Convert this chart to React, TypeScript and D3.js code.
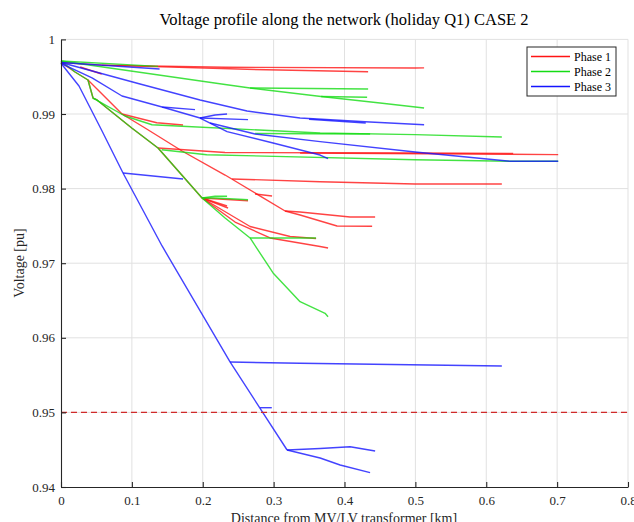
import React, { useEffect, useRef } from 'react';
import * as d3 from 'd3';

type Pt = [number, number];

const xTicks = [0, 0.1, 0.2, 0.3, 0.4, 0.5, 0.6, 0.7, 0.8];
const xTickLabels = ['0', '0.1', '0.2', '0.3', '0.4', '0.5', '0.6', '0.7', '0.8'];
const yTicks = [0.94, 0.95, 0.96, 0.97, 0.98, 0.99, 1];
const yTickLabels = ['0.94', '0.95', '0.96', '0.97', '0.98', '0.99', '1'];
const phaseNames = ['Phase 1', 'Phase 2', 'Phase 3'];
const phaseColors = ['#ff1414', '#14dc14', '#1414ff'];
const voltageLimit = 0.95;

// each branch = [distance km, voltage pu] along a feeder path
const phase1: Pt[][] = [
  [[0, 0.9969], [0.0579, 0.99655], [0.2315, 0.99626], [0.4996, 0.99617], [0.5123, 0.99618]],
  [[0.0579, 0.99655], [0.2625, 0.99599], [0.4333, 0.99567]],
  [[0.027, 0.9963], [0.0574, 0.99536]],
  [[0, 0.9969], [0.0198, 0.99563], [0.0381, 0.99456], [0.0452, 0.99214], [0.0508, 0.99188], [0.0998, 0.98812], [0.1369, 0.98544], [0.199, 0.97874], [0.2456, 0.97552], [0.295, 0.97338], [0.3656, 0.97224], [0.3768, 0.97204]],
  [[0.199, 0.97874], [0.2668, 0.97492], [0.3232, 0.97358], [0.3599, 0.97331]],
  [[0.0381, 0.99456], [0.0861, 0.99], [0.1186, 0.98812], [0.1708, 0.98504], [0.2315, 0.98182], [0.3162, 0.977], [0.3373, 0.97686], [0.4079, 0.97619], [0.4432, 0.97619]],
  [[0.3162, 0.977], [0.3373, 0.97646], [0.3895, 0.97499], [0.439, 0.97495]],
  [[0.0861, 0.99], [0.1351, 0.98883], [0.1722, 0.98853]],
  [[0.2414, 0.98129], [0.3656, 0.98092], [0.4996, 0.98062], [0.622, 0.98062]],
  [[0.2738, 0.97928], [0.2978, 0.97901]],
  [[0.1369, 0.98544], [0.2315, 0.98483], [0.4996, 0.98477], [0.638, 0.9847]],
  [[0.3373, 0.98477], [0.7015, 0.98456]],
  [[0.199, 0.97874], [0.2357, 0.9774]],
  [[0.199, 0.97874], [0.2343, 0.97767]],
  [[0.199, 0.97874], [0.2639, 0.97838]],
];

const phase2: Pt[][] = [
  [[0, 0.9971], [0.1369, 0.99639]],
  [[0, 0.9971], [0.2315, 0.99395], [0.2668, 0.99349], [0.367, 0.99235], [0.4502, 0.99147], [0.5123, 0.9908]],
  [[0.2668, 0.99349], [0.4333, 0.99335]],
  [[0.367, 0.99235], [0.4319, 0.99224]],
  [[0, 0.9971], [0.0198, 0.99563], [0.0381, 0.99456], [0.0452, 0.99214], [0.0508, 0.99188], [0.0998, 0.98812], [0.1369, 0.98544], [0.199, 0.97874], [0.2315, 0.97606], [0.2668, 0.97338], [0.2992, 0.96869], [0.3373, 0.96484], [0.3726, 0.96328], [0.3768, 0.96283]],
  [[0.0452, 0.99214], [0.0903, 0.98973], [0.1284, 0.98856], [0.1708, 0.98835], [0.3656, 0.98745], [0.4996, 0.98723], [0.622, 0.98692]],
  [[0.2738, 0.98738], [0.4361, 0.98732]],
  [[0.1421, 0.98521], [0.2056, 0.98454], [0.4996, 0.98387], [0.6337, 0.98366], [0.7015, 0.98366]],
  [[0.2668, 0.97338], [0.3599, 0.97338]],
  [[0.199, 0.97874], [0.2174, 0.97897], [0.2343, 0.97897]],
  [[0.199, 0.97874], [0.2174, 0.97874], [0.2639, 0.97851]],
];

const phase3: Pt[][] = [
  [[0, 0.9969], [0.1391, 0.99603]],
  [[0, 0.9969], [0.1115, 0.99402], [0.1962, 0.99188], [0.2625, 0.9904], [0.3373, 0.98946], [0.4291, 0.98897], [0.5123, 0.98856]],
  [[0.35, 0.9893], [0.43, 0.9888]],
  [[0, 0.9968], [0.0438, 0.99483], [0.0861, 0.99241], [0.1426, 0.99094], [0.1891, 0.99058]],
  [[0.1426, 0.99094], [0.1962, 0.98946], [0.2343, 0.98763], [0.2992, 0.98611], [0.3656, 0.9845], [0.3768, 0.98401]],
  [[0.1962, 0.98946], [0.2174, 0.98987], [0.2343, 0.99]],
  [[0.1962, 0.98946], [0.2639, 0.98924]],
  [[0.2103, 0.98879], [0.2738, 0.98732], [0.3656, 0.98629], [0.4996, 0.9849], [0.6337, 0.98366], [0.7015, 0.98366]],
  [[0, 0.9968], [0.0254, 0.99375], [0.0579, 0.98772], [0.0875, 0.98209], [0.1426, 0.97231], [0.2385, 0.95676], [0.319, 0.94496]],
  [[0.0875, 0.98209], [0.1722, 0.98129]],
  [[0.2385, 0.95676], [0.3373, 0.95658], [0.622, 0.95622]],
  [[0.2809, 0.95063], [0.2974, 0.95063]],
  [[0.319, 0.94496], [0.3656, 0.94516], [0.4079, 0.9454], [0.4432, 0.94483]],
  [[0.319, 0.94496], [0.3656, 0.94389], [0.3938, 0.94295], [0.4361, 0.94192]],
];

const phases = [phase1, phase2, phase3];

export default function App() {
  const ref = useRef<SVGSVGElement>(null);

  useEffect(() => {
    const svg = d3.select(ref.current);
    svg.selectAll('*').remove();

    const x = d3.scaleLinear().domain([0, 0.8]).range([61, 628]);
    const y = d3.scaleLinear().domain([0.94, 1]).range([487, 39.4]);
    const font = "'Liberation Serif', 'Times New Roman', serif";

    // grid
    const grid = svg.append('g').attr('stroke', '#e1e1e1').attr('stroke-width', 1);
    grid.selectAll('line.v').data(xTicks.slice(1)).enter().append('line')
      .attr('x1', d => x(d)).attr('x2', d => x(d))
      .attr('y1', y(1)).attr('y2', y(0.94));
    grid.selectAll('line.h').data(yTicks.slice(1)).enter().append('line')
      .attr('x1', x(0)).attr('x2', x(0.8))
      .attr('y1', d => y(d)).attr('y2', d => y(d));

    // feeders
    const line = d3.line<Pt>().x(d => x(d[0])).y(d => y(d[1]));
    phases.forEach((branches, i) => {
      svg.append('g')
        .selectAll('path')
        .data(branches)
        .enter()
        .append('path')
        .attr('d', d => line(d))
        .attr('fill', 'none')
        .attr('stroke', phaseColors[i])
        .attr('stroke-opacity', 0.8)
        .attr('stroke-width', 1.4)
        .attr('stroke-linejoin', 'round');
    });

    // 0.95 limit
    svg.append('line')
      .attr('x1', x(0)).attr('x2', x(0.8))
      .attr('y1', y(voltageLimit)).attr('y2', y(voltageLimit))
      .attr('stroke', '#d02a2a')
      .attr('stroke-width', 1.3)
      .attr('stroke-dasharray', '6,4');

    // axes
    const xAxis = svg.append('g')
      .attr('transform', 'translate(0,' + y(0.94) + ')')
      .call(d3.axisBottom(x).tickValues(xTicks).tickFormat((d, i) => xTickLabels[i])
        .tickSizeInner(-5).tickSizeOuter(0).tickPadding(9));
    const yAxis = svg.append('g')
      .attr('transform', 'translate(' + x(0) + ',0)')
      .call(d3.axisLeft(y).tickValues(yTicks).tickFormat((d, i) => yTickLabels[i])
        .tickSizeInner(-5).tickSizeOuter(0).tickPadding(6));
    [xAxis, yAxis].forEach(a => {
      a.selectAll('path, line').attr('stroke', '#262626').attr('stroke-width', 1.1);
      a.selectAll('text').attr('fill', '#262626').style('font-family', font).style('font-size', '13px');
    });

    svg.append('text')
      .attr('x', 344).attr('y', 25)
      .attr('text-anchor', 'middle')
      .style('font-family', font).style('font-size', '16.5px')
      .attr('fill', '#000')
      .text('Voltage profile along the network (holiday Q1) CASE 2');

    svg.append('text')
      .attr('transform', 'translate(24,263) rotate(-90)')
      .attr('text-anchor', 'middle')
      .style('font-family', font).style('font-size', '14px')
      .attr('fill', '#262626')
      .text('Voltage [pu]');

    svg.append('text')
      .attr('x', 344).attr('y', 523)
      .attr('text-anchor', 'middle')
      .style('font-family', font).style('font-size', '14px')
      .attr('fill', '#262626')
      .text('Distance from MV/LV transformer [km]');

    // legend
    const legend = svg.append('g');
    legend.append('rect')
      .attr('x', 527).attr('y', 47).attr('width', 89).attr('height', 49)
      .attr('fill', '#fff').attr('stroke', '#262626').attr('stroke-width', 1);
    phaseNames.forEach((name, i) => {
      const ly = 56.5 + i * 15;
      legend.append('line')
        .attr('x1', 531).attr('x2', 570).attr('y1', ly).attr('y2', ly)
        .attr('stroke', phaseColors[i]).attr('stroke-width', 1.5);
      legend.append('text')
        .attr('x', 574).attr('y', ly + 4)
        .style('font-family', font).style('font-size', '12px')
        .attr('fill', '#000')
        .text(name);
    });
  }, []);

  return (
    <svg
      ref={ref}
      width={634}
      height={522}
      style={{ position: 'absolute', left: 0, top: 0, background: '#fff' }}
    />
  );
}
